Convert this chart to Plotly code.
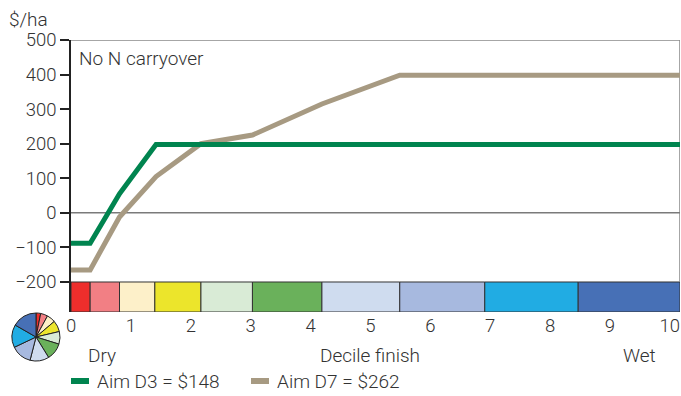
import plotly.graph_objects as go

# Decile-finish bands: right-hand edge of each coloured band on the decile axis
band_edges = [0.32, 0.81, 1.40, 2.17, 3.03, 4.19, 5.49, 6.91, 8.47, 10.17]
band_colors = ["#EE2E2C", "#F27F84", "#FDF0C9", "#ECE52B", "#D9EBD6",
               "#6AB15B", "#CFDCEF", "#A7B9DF", "#21ACE3", "#4770B6"]

# Profit ($/ha) at each band edge for the two nitrogen strategies
x_pts = [0.0, 0.32, 0.81, 1.42, 2.17, 3.03, 4.19, 5.49, 6.91, 8.47, 10.17]
aim_d3 = [-88, -88, 55, 198, 198, 198, 198, 198, 198, 198, 198]
aim_d7 = [-165, -165, -12, 105, 200, 225, 315, 398, 398, 398, 398]

y_ticks = [-200, -100, 0, 100, 200, 300, 400, 500]
y_labels = ["\u2212200", "\u2212100", "0", "100", "200", "300", "400", "500"]
x_ticks = list(range(11))

W, H = 681, 396
FONT = "Roboto, Arial, sans-serif"
TXT = "#333333"
X_MAX = band_edges[-1]
BAR_BOTTOM = -286.8

fig = go.Figure()

fig.add_trace(go.Scatter(x=x_pts, y=aim_d7, mode="lines", name="Aim D7 = $262",
                         line=dict(color="#A79A82", width=5), showlegend=False))
fig.add_trace(go.Scatter(x=x_pts, y=aim_d3, mode="lines", name="Aim D3 = $148",
                         line=dict(color="#00844F", width=5), showlegend=False))

# Small pie of band proportions
band_widths = [band_edges[0]] + [band_edges[i] - band_edges[i - 1] for i in range(1, len(band_edges))]
fig.add_trace(go.Pie(values=band_widths, marker=dict(colors=band_colors, line=dict(color="#222222", width=1)),
                     sort=False, direction="clockwise", rotation=0, textinfo="none", hoverinfo="skip",
                     showlegend=False, domain=dict(x=[12 / W, 60 / W], y=[35 / H, 83 / H])))

shapes = []
# Coloured decile band strip under the plot
x0 = 0.0
for edge, col in zip(band_edges, band_colors):
    shapes.append(dict(type="rect", xref="x", yref="y", x0=x0, x1=edge, y0=BAR_BOTTOM, y1=-200,
                       fillcolor=col, line=dict(color="#333333", width=1), layer="below"))
    x0 = edge
# Frame: top border, right border, zero line
shapes.append(dict(type="line", xref="x", yref="y", x0=0, x1=X_MAX, y0=500, y1=500,
                   line=dict(color="#888888", width=1.5), layer="below"))
shapes.append(dict(type="line", xref="x", yref="y", x0=X_MAX, x1=X_MAX, y0=-200, y1=500,
                   line=dict(color="#888888", width=1.5), layer="below"))
shapes.append(dict(type="line", xref="x", yref="y", x0=0, x1=X_MAX, y0=0, y1=0,
                   line=dict(color="#7A7A7A", width=1.5), layer="below"))

# Legend samples
shapes.append(dict(type="line", xref="paper", yref="paper", x0=71 / W, x1=89 / W,
                   y0=(H - 381) / H, y1=(H - 381) / H, line=dict(color="#00844F", width=6)))
shapes.append(dict(type="line", xref="paper", yref="paper", x0=251 / W, x1=269 / W,
                   y0=(H - 381) / H, y1=(H - 381) / H, line=dict(color="#A79A82", width=6)))

def note(text, px, py, anchor="left", size=19):
    return dict(text=text, xref="paper", yref="paper", x=px / W, y=(H - py) / H,
                xanchor=anchor, yanchor="middle", showarrow=False,
                font=dict(family=FONT, size=size, color=TXT, weight=300))

annotations = [
    note("$/ha", 7, 20),
    note("No N carryover", 77, 58, size=19),
    note("Dry", 86, 355),
    note("Decile finish", 370, 355, anchor="center"),
    note("Wet", 621, 355),
    note("Aim D3 = $148", 95, 381),
    note("Aim D7 = $262", 275, 381),
]

tick_font = dict(size=18.5, color=TXT, family=FONT, weight=300)

fig.update_layout(
    width=W, height=H,
    margin=dict(l=0, r=0, t=0, b=0),
    paper_bgcolor="white", plot_bgcolor="white",
    font=dict(family=FONT, size=18, color=TXT),
    shapes=shapes, annotations=annotations,
    xaxis=dict(domain=[71 / W, 680 / W], range=[0, X_MAX], tickvals=x_ticks,
               ticktext=[str(v) for v in x_ticks], showgrid=False, zeroline=False,
               showline=False, ticks="", automargin=False, tickfont=tick_font),
    yaxis=dict(domain=[84 / H, 356 / H], range=[BAR_BOTTOM, 500], tickvals=y_ticks,
               ticktext=y_labels, showgrid=False, zeroline=False, showline=True,
               linecolor="#222222", linewidth=1.5, ticks="outside", ticklen=9,
               tickcolor="#222222", tickwidth=1.5, automargin=False,
               tickfont=tick_font),
)

fig.write_html("out.html")
